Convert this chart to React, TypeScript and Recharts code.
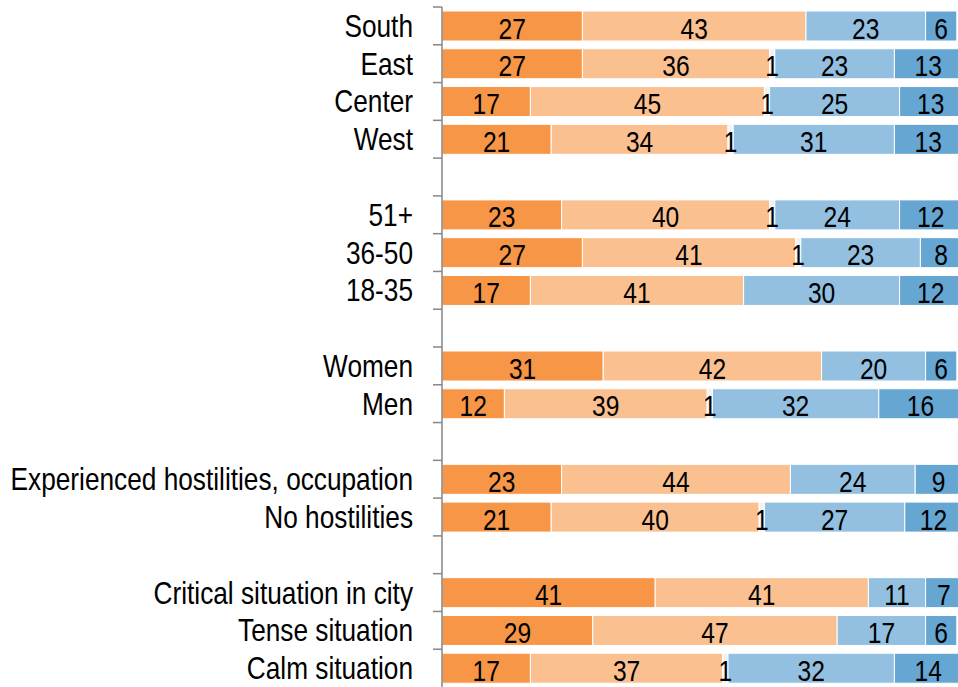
import React from "react";
import { BarChart, Bar, XAxis, YAxis, LabelList } from "recharts";

const CATEGORIES = [
  "South", "East", "Center", "West", "",
  "51+", "36-50", "18-35", "",
  "Women", "Men", "",
  "Experienced hostilities, occupation", "No hostilities", "",
  "Critical situation in city", "Tense situation", "Calm situation",
];
const STRONG_YES = [27, 27, 17, 21, null, 23, 27, 17, null, 31, 12, null, 23, 21, null, 41, 29, 17];
const YES = [43, 36, 45, 34, null, 40, 41, 41, null, 42, 39, null, 44, 40, null, 41, 47, 37];
const HARD_TO_SAY = [null, 1, 1, 1, null, 1, 1, null, null, null, 1, null, null, 1, null, null, null, 1];
const NO = [23, 23, 25, 31, null, 24, 23, 30, null, 20, 32, null, 24, 27, null, 11, 17, 32];
const STRONG_NO = [6, 13, 13, 13, null, 12, 8, 12, null, 6, 16, null, 9, 12, null, 7, 6, 14];

const SERIES = [
  { key: "strongYes", values: STRONG_YES, color: "#F79646" },
  { key: "yes", values: YES, color: "#FAC090" },
  { key: "hardToSay", values: HARD_TO_SAY, color: "#F2F2F2" },
  { key: "no", values: NO, color: "#93C0E0" },
  { key: "strongNo", values: STRONG_NO, color: "#65A6D3" },
];

const data = CATEGORIES.map((name, i) => {
  const row: Record<string, string | number | null> = { name };
  SERIES.forEach(s => { row[s.key] = s.values[i]; });
  return row;
});

// no Arial Narrow available: squeeze Liberation Sans horizontally instead
const FONT = "'Liberation Sans', Arial, sans-serif";
const NARROW = 0.82;
const W = 964;
const H = 691;
const MARGIN = { top: 7, right: 2, bottom: 4, left: 0 };
const BAND = (H - MARGIN.top - MARGIN.bottom) / CATEGORIES.length;
const AXIS_W = 442;
const GAP = 29; // label -> axis
const TICK = 9;

const NarrowText = ({ x, y, anchor, size, children }: { x: number; y: number; anchor: "start" | "middle" | "end"; size: number; children: React.ReactNode }) => (
  <text transform={`translate(${x},${y}) scale(${NARROW},1)`} textAnchor={anchor} fontFamily={FONT} fontSize={size} fill="#000">
    {children}
  </text>
);

const CategoryTick = (props: any) => {
  const { x, y, payload } = props;
  const top = y - BAND / 2;
  return (
    <g>
      <line x1={x + GAP - TICK} x2={x + GAP} y1={top} y2={top} stroke="#868686" strokeWidth={1.5} />
      <NarrowText x={x} y={y + 11} anchor="end" size={32}>{payload.value}</NarrowText>
    </g>
  );
};

const renderValue = (props: any) => {
  const vb = props.viewBox ?? props;
  const { value } = props;
  if (value == null || value === 0) return null;
  return (
    <NarrowText x={vb.x + vb.width / 2} y={vb.y + vb.height / 2 + 12.5} anchor="middle" size={30}>
      {value}
    </NarrowText>
  );
};

export default function App() {
  return (
    <div style={{ position: "absolute", left: 0, top: 0, width: 958, height: 687, overflow: "hidden", background: "#fff" }}>
      <BarChart width={W} height={H} data={data} layout="vertical" margin={MARGIN} barSize={30}>
        <XAxis type="number" domain={[0, 100]} allowDataOverflow hide />
        <YAxis
          type="category"
          dataKey="name"
          width={AXIS_W}
          interval={0}
          tickLine={false}
          tickSize={0}
          tickMargin={GAP}
          axisLine={{ stroke: "#868686", strokeWidth: 1.5 }}
          tick={<CategoryTick />}
        />
        {SERIES.map(s => (
          <Bar key={s.key} dataKey={s.key} stackId="a" fill={s.color} stroke="#fff" strokeWidth={1} isAnimationActive={false}>
            <LabelList dataKey={s.key} content={renderValue} />
          </Bar>
        ))}
      </BarChart>
    </div>
  );
}
